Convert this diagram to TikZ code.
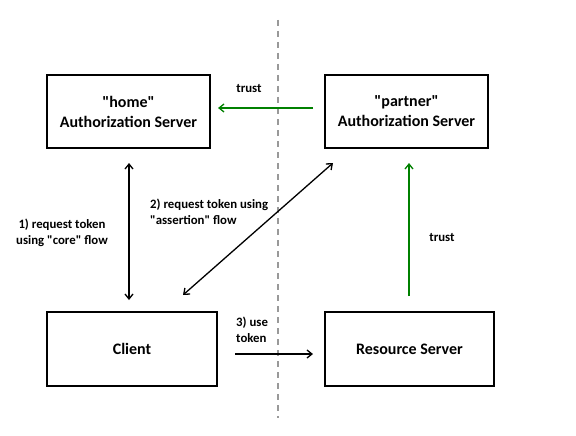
\documentclass[tikz,border=0pt]{standalone}
\usepackage{fontspec}
\setmainfont{Carlito}[Ligatures=TeXOff]
\usetikzlibrary{arrows.meta}
\definecolor{trustgreen}{RGB}{0,128,0}
\tikzset{
  box/.style={draw, line width=1.5pt, minimum width=163pt, minimum height=73pt, inner sep=0pt, align=center, font=\bfseries\fontsize{16}{20}\selectfont},
  lbl/.style={font=\bfseries\fontsize{12.8}{15.5}\selectfont, align=left, inner sep=0pt},
  conn/.style={line width=1.3pt, -{Straight Barb[length=5pt,width=8pt]}},
  bconn/.style={line width=1.3pt, {Straight Barb[length=5pt,width=8pt]}-{Straight Barb[length=5pt,width=8pt]}},
}
\begin{document}
\begin{tikzpicture}[x=1pt,y=-1pt]
\useasboundingbox (0,0) rectangle (576,436);
\draw[gray!80, dashed, line width=1.3pt, dash pattern=on 6pt off 5pt] (278,20) -- (278,418);
\node[box] (home) at (128.5,111.5) {"home"\\Authorization Server};
\node[box] (partner) at (406.5,111.5) {"partner"\\Authorization Server};
\node[box, minimum width=170pt, minimum height=74pt] (client) at (132,349) {Client};
\node[box, minimum width=169pt, minimum height=74pt] (rs) at (409.5,349) {Resource Server};
\coordinate (t1s) at (313,108);
\coordinate (t1e) at (218,108);
\draw[conn, trustgreen] (t1s) -- (t1e);
\node[lbl] (t1l) at (249,89) {trust};
\coordinate (v1a) at (129,163);
\coordinate (v1b) at (129,300);
\draw[bconn] (v1a) -- (v1b);
\node[lbl, align=center] (l1) at (62,233) {1) request token\\using "core" flow};
\coordinate (d1a) at (333,163);
\coordinate (d1b) at (183,295);
\draw[bconn] (d1a) -- (d1b);
\node[lbl, anchor=west] (l2) at (150,212) {2) request token using\\"assertion" flow};
\coordinate (t2s) at (409,296);
\coordinate (t2e) at (409,163);
\draw[conn, trustgreen] (t2s) -- (t2e);
\node[lbl] (t2l) at (442,238) {trust};
\coordinate (u1) at (235,354);
\coordinate (u2) at (313,354);
\draw[conn] (u1) -- (u2);
\node[lbl, anchor=west] (l3) at (236,330) {3) use\\token};
\end{tikzpicture}
\end{document}
